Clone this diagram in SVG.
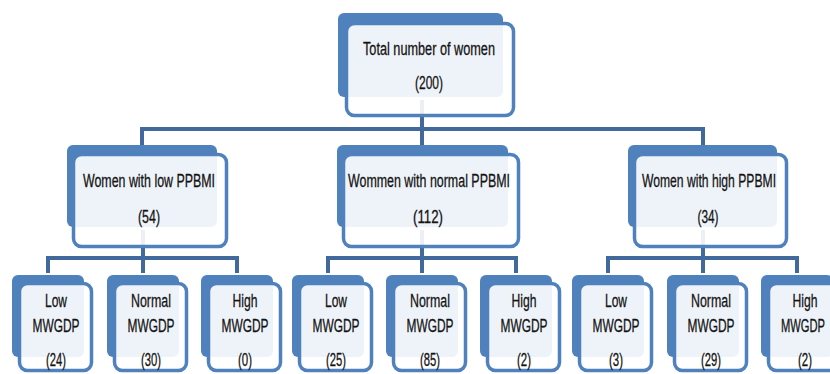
<svg xmlns="http://www.w3.org/2000/svg" width="830" height="374" viewBox="0 0 830 374">
<style>
.back{fill:#4F81BD;}
.front{fill:#FFFFFF;fill-opacity:0.9;stroke:#4F81BD;stroke-width:3.5;}
.conn{fill:none;stroke:#41699C;stroke-width:4;}
text{font-family:"Liberation Sans",Arial,sans-serif;fill:#141414;stroke:#141414;stroke-width:0.3;text-anchor:middle;}
.t2{font-size:18px;}
.t3{font-size:18px;}
</style>
<rect width="830" height="374" fill="#FFFFFF"/>
<g id="connectors">
<path class="conn" d="M422,100 V129 M142,145 V129 H703 V145 M422,129 V145"/>
<path class="conn" d="M143,230 V258 M48,273 V258 H237 V273 M143,258 V273"/>
<path class="conn" d="M422,230 V258 M328,273 V258 H516 V273 M422,258 V273"/>
<path class="conn" d="M703,230 V258 M608,273 V258 H797 V273 M703,258 V273"/>
</g>
<g id="n_total">
<rect class="back" x="338" y="13" width="165" height="84" rx="6"/>
<rect class="front" x="346.5" y="23.5" width="167" height="92" rx="8"/>
<text class="t2" x="429" y="55" textLength="132" lengthAdjust="spacingAndGlyphs">Total number of women</text>
<text class="t2" x="429" y="89" textLength="28" lengthAdjust="spacingAndGlyphs">(200)</text>
</g>
<g id="n_low">
<rect class="back" x="67" y="145" width="150" height="82" rx="6"/>
<rect class="front" x="73.5" y="154.5" width="153" height="92" rx="8"/>
<text class="t2" x="149" y="187" textLength="132" lengthAdjust="spacingAndGlyphs">Women with low PPBMI</text>
<text class="t2" x="149" y="223" textLength="22" lengthAdjust="spacingAndGlyphs">(54)</text>
</g>
<g id="n_normal">
<rect class="back" x="337" y="145" width="171" height="82" rx="6"/>
<rect class="front" x="343.5" y="154.5" width="175" height="92" rx="8"/>
<text class="t2" x="429" y="187" textLength="162" lengthAdjust="spacingAndGlyphs">Wommen with normal PPBMI</text>
<text class="t2" x="428" y="223" textLength="30" lengthAdjust="spacingAndGlyphs">(112)</text>
</g>
<g id="n_high">
<rect class="back" x="628" y="145" width="149" height="82" rx="6"/>
<rect class="front" x="634.5" y="154.5" width="152" height="92" rx="8"/>
<text class="t2" x="709" y="187" textLength="134" lengthAdjust="spacingAndGlyphs">Women with high PPBMI</text>
<text class="t2" x="708" y="223" textLength="21" lengthAdjust="spacingAndGlyphs">(34)</text>
</g>
<g id="l1">
<rect class="back" x="12" y="275" width="72" height="82" rx="6"/>
<rect class="front" x="19.5" y="283.5" width="72" height="87" rx="8"/>
<text class="t3" x="56" y="307" textLength="22" lengthAdjust="spacingAndGlyphs">Low</text>
<text class="t3" x="56" y="332" textLength="47" lengthAdjust="spacingAndGlyphs">MWGDP</text>
<text class="t3" x="56" y="366" textLength="20" lengthAdjust="spacingAndGlyphs">(24)</text>
</g>
<g id="l2">
<rect class="back" x="107" y="275" width="72" height="82" rx="6"/>
<rect class="front" x="114.5" y="283.5" width="72" height="87" rx="8"/>
<text class="t3" x="151" y="307" textLength="40" lengthAdjust="spacingAndGlyphs">Normal</text>
<text class="t3" x="151" y="332" textLength="47" lengthAdjust="spacingAndGlyphs">MWGDP</text>
<text class="t3" x="151" y="366" textLength="20" lengthAdjust="spacingAndGlyphs">(30)</text>
</g>
<g id="l3">
<rect class="back" x="201" y="275" width="72" height="82" rx="6"/>
<rect class="front" x="208.5" y="283.5" width="72" height="87" rx="8"/>
<text class="t3" x="245" y="307" textLength="25" lengthAdjust="spacingAndGlyphs">High</text>
<text class="t3" x="245" y="332" textLength="47" lengthAdjust="spacingAndGlyphs">MWGDP</text>
<text class="t3" x="245" y="366" textLength="14" lengthAdjust="spacingAndGlyphs">(0)</text>
</g>
<g id="l4">
<rect class="back" x="292" y="275" width="72" height="82" rx="6"/>
<rect class="front" x="299.5" y="283.5" width="72" height="87" rx="8"/>
<text class="t3" x="336" y="307" textLength="22" lengthAdjust="spacingAndGlyphs">Low</text>
<text class="t3" x="336" y="332" textLength="47" lengthAdjust="spacingAndGlyphs">MWGDP</text>
<text class="t3" x="336" y="366" textLength="20" lengthAdjust="spacingAndGlyphs">(25)</text>
</g>
<g id="l5">
<rect class="back" x="386" y="275" width="72" height="82" rx="6"/>
<rect class="front" x="393.5" y="283.5" width="72" height="87" rx="8"/>
<text class="t3" x="430" y="307" textLength="40" lengthAdjust="spacingAndGlyphs">Normal</text>
<text class="t3" x="430" y="332" textLength="47" lengthAdjust="spacingAndGlyphs">MWGDP</text>
<text class="t3" x="430" y="366" textLength="20" lengthAdjust="spacingAndGlyphs">(85)</text>
</g>
<g id="l6">
<rect class="back" x="480" y="275" width="72" height="82" rx="6"/>
<rect class="front" x="487.5" y="283.5" width="72" height="87" rx="8"/>
<text class="t3" x="524" y="307" textLength="25" lengthAdjust="spacingAndGlyphs">High</text>
<text class="t3" x="524" y="332" textLength="47" lengthAdjust="spacingAndGlyphs">MWGDP</text>
<text class="t3" x="524" y="366" textLength="14" lengthAdjust="spacingAndGlyphs">(2)</text>
</g>
<g id="l7">
<rect class="back" x="572" y="275" width="72" height="82" rx="6"/>
<rect class="front" x="579.5" y="283.5" width="72" height="87" rx="8"/>
<text class="t3" x="616" y="307" textLength="22" lengthAdjust="spacingAndGlyphs">Low</text>
<text class="t3" x="616" y="332" textLength="47" lengthAdjust="spacingAndGlyphs">MWGDP</text>
<text class="t3" x="616" y="366" textLength="14" lengthAdjust="spacingAndGlyphs">(3)</text>
</g>
<g id="l8">
<rect class="back" x="667" y="275" width="72" height="82" rx="6"/>
<rect class="front" x="674.5" y="283.5" width="72" height="87" rx="8"/>
<text class="t3" x="711" y="307" textLength="40" lengthAdjust="spacingAndGlyphs">Normal</text>
<text class="t3" x="711" y="332" textLength="47" lengthAdjust="spacingAndGlyphs">MWGDP</text>
<text class="t3" x="711" y="366" textLength="20" lengthAdjust="spacingAndGlyphs">(29)</text>
</g>
<g id="l9">
<rect class="back" x="761" y="275" width="72" height="82" rx="6"/>
<rect class="front" x="768.5" y="283.5" width="72" height="87" rx="8"/>
<text class="t3" x="805" y="307" textLength="25" lengthAdjust="spacingAndGlyphs">High</text>
<text class="t3" x="803" y="332" textLength="44" lengthAdjust="spacingAndGlyphs">MWGDP</text>
<text class="t3" x="805" y="366" textLength="14" lengthAdjust="spacingAndGlyphs">(2)</text>
</g>
</svg>
